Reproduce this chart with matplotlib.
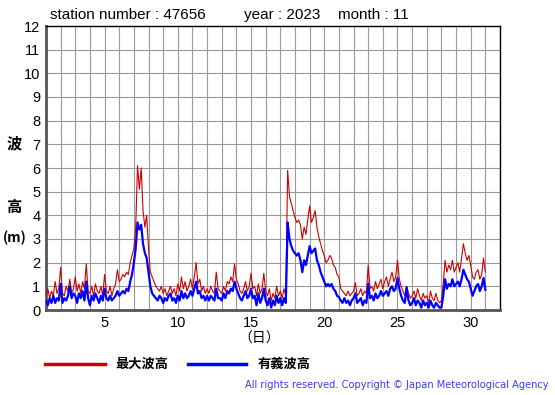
import numpy as np
import matplotlib
matplotlib.use("Agg")
import matplotlib.pyplot as plt

# 3-hourly readings, 8 per day from Nov 1 00h, last value Dec 1 00h
max_wave = [
    0.6, 0.9, 0.5, 0.8, 0.6, 1.2, 0.7, 0.9,   # 1
    1.8, 0.7, 0.6, 1.0, 0.8, 1.3, 0.7, 0.9,   # 2
    1.4, 0.8, 1.1, 0.7, 1.2, 0.9, 1.95, 0.8,  # 3
    0.7, 1.0, 0.6, 1.1, 0.8, 0.7, 1.0, 0.6,   # 4
    1.5, 0.8, 0.7, 1.0, 0.6, 0.9, 1.1, 1.7,   # 5
    1.2, 1.3, 1.5, 1.4, 1.6, 1.5, 2.0, 2.3,   # 6
    2.6, 3.5, 6.1, 5.1, 6.0, 4.2, 3.5, 4.0,   # 7
    2.6, 1.6, 1.4, 1.2, 1.0, 0.9, 0.8, 1.0,   # 8
    0.7, 0.9, 0.6, 0.8, 1.0, 0.7, 0.9, 0.6,   # 9
    1.1, 0.8, 1.4, 0.9, 1.2, 0.8, 1.0, 1.3,   # 10
    0.9, 1.4, 2.0, 1.1, 1.3, 0.8, 1.0, 0.7,   # 11
    0.9, 0.7, 1.0, 0.8, 0.7, 1.6, 0.9, 0.8,   # 12
    0.7, 1.0, 0.8, 1.2, 1.1, 1.4, 1.2, 1.95,  # 13
    1.3, 1.1, 0.8, 0.7, 0.9, 1.2, 0.8, 1.0,   # 14
    1.55, 0.9, 1.0, 0.6, 1.1, 0.7, 0.9, 1.55, # 15
    0.8, 0.6, 0.9, 0.4, 0.7, 0.5, 1.0, 0.6,   # 16
    0.8, 0.5, 0.9, 0.6, 5.9, 4.8, 4.5, 4.2,   # 17
    3.9, 3.7, 3.8, 3.6, 3.0, 3.5, 3.2, 3.8,   # 18
    4.4, 3.7, 3.9, 4.2, 3.5, 3.1, 2.8, 2.5,   # 19
    2.3, 2.0, 2.1, 2.3, 2.2, 1.9, 1.8, 1.5,   # 20
    1.4, 0.9, 0.8, 0.7, 0.6, 0.8, 0.6, 0.7,   # 21
    0.8, 1.15, 0.6, 0.7, 0.9, 0.6, 0.8, 0.7,  # 22
    1.9, 0.9, 1.0, 0.8, 1.2, 0.9, 1.1, 1.3,   # 23
    0.9, 1.2, 1.4, 1.0, 1.3, 1.6, 1.2, 1.4,   # 24
    2.1, 1.3, 1.0, 0.8, 0.6, 1.0, 0.7, 0.5,   # 25
    0.6, 0.8, 0.5, 0.9, 0.6, 0.4, 0.7, 0.5,   # 26
    0.6, 0.3, 0.8, 0.5, 0.4, 0.7, 0.4, 0.3,   # 27
    0.4, 1.1, 2.1, 1.6, 1.9, 1.7, 2.1, 1.6,   # 28
    1.8, 2.0, 1.6, 2.2, 2.8, 2.4, 2.1, 2.3,   # 29
    1.9, 1.4, 1.3, 1.6, 1.7, 1.3, 1.5, 2.2,   # 30
    1.6,
]
sig_wave = [
    0.4, 0.2, 0.5, 0.3, 0.6, 0.3, 0.5, 0.4,   # 1
    1.1, 0.3, 0.5, 0.4, 0.6, 1.0, 0.5, 0.7,   # 2
    0.6, 0.3, 0.7, 0.5, 0.8, 0.4, 1.2, 0.5,   # 3
    0.2, 0.6, 0.4, 0.7, 0.5, 0.3, 0.6, 0.4,   # 4
    0.9, 0.5, 0.4, 0.6, 0.4, 0.5, 0.6, 0.8,   # 5
    0.6, 0.7, 0.8, 0.7, 0.9, 0.8, 1.2, 1.5,   # 6
    2.0, 2.6, 3.7, 3.4, 3.6, 2.8, 2.4, 2.2,   # 7
    1.6, 1.0, 0.7, 0.6, 0.5, 0.4, 0.6, 0.5,   # 8
    0.3, 0.5, 0.4, 0.6, 0.7, 0.4, 0.5, 0.3,   # 9
    0.6, 0.4, 0.8, 0.5, 0.7, 0.5, 0.6, 0.8,   # 10
    0.6, 0.9, 1.2, 0.7, 0.8, 0.5, 0.6, 0.4,   # 11
    0.6, 0.4, 0.6, 0.5, 0.4, 0.9, 0.5, 0.5,   # 12
    0.4, 0.7, 0.5, 0.8, 0.7, 0.9, 0.8, 1.2,   # 13
    0.9, 0.7, 0.5, 0.4, 0.6, 0.8, 0.5, 0.6,   # 14
    0.9, 0.5, 0.6, 0.2, 0.7, 0.3, 0.5, 0.9,   # 15
    0.4, 0.2, 0.5, 0.1, 0.4, 0.2, 0.6, 0.3,   # 16
    0.5, 0.2, 0.5, 0.3, 3.7, 3.0, 2.7, 2.5,   # 17
    2.4, 2.3, 2.4, 2.1, 1.6, 2.1, 1.9, 2.3,   # 18
    2.7, 2.4, 2.5, 2.6, 2.1, 1.9, 1.6, 1.4,   # 19
    1.2, 1.0, 1.1, 1.0, 1.1, 0.9, 0.8, 0.6,   # 20
    0.55, 0.4, 0.3, 0.5, 0.3, 0.4, 0.2, 0.4,  # 21
    0.5, 0.7, 0.3, 0.4, 0.5, 0.2, 0.4, 0.3,   # 22
    1.1, 0.5, 0.6, 0.4, 0.7, 0.5, 0.6, 0.8,   # 23
    0.6, 0.7, 0.8, 0.6, 0.9, 1.0, 0.8, 0.9,   # 24
    1.35, 0.9, 0.6, 0.4, 0.3, 0.95, 0.4, 0.2, # 25
    0.3, 0.5, 0.2, 0.4, 0.3, 0.1, 0.4, 0.2,   # 26
    0.3, 0.1, 0.4, 0.2, 0.1, 0.3, 0.2, 0.1,   # 27
    0.1, 0.6, 1.3, 0.9, 1.1, 1.0, 1.3, 1.0,   # 28
    1.1, 1.2, 1.0, 1.3, 1.7, 1.5, 1.3, 1.2,   # 29
    0.9, 0.6, 0.8, 1.0, 1.1, 0.8, 1.0, 1.35,  # 30
    0.85,
]
days = 1 + np.arange(len(max_wave)) / 8.0

station = "47656"
year = "2023"
month = "11"

CJK = ['Noto Sans CJK JP', 'DejaVu Sans']

fig = plt.figure(figsize=(5.55, 3.95), dpi=100)
ax = fig.add_axes([46 / 555, 1 - 310 / 395, 454 / 555, 284 / 395])

ax.plot(days, max_wave, color='#cc0000', lw=0.8, zorder=3)
ax.plot(days, sig_wave, color='#0000ff', lw=1.6, zorder=4)

ax.set_xlim(1, 32)
ax.set_ylim(0, 12)
ax.set_xticks(np.arange(1, 33), minor=True)
ax.set_xticks([5, 10, 15, 20, 25, 30])
ax.set_yticks(np.arange(0, 13))
ax.grid(True, which='both', color='#999999', lw=0.8)
ax.tick_params(which='both', length=0, labelsize=10.5, pad=4)
for lab in ax.get_xticklabels() + ax.get_yticklabels():
    lab.set_fontfamily('Liberation Sans')
for s in ('left', 'bottom'):
    ax.spines[s].set_color('#555555')
    ax.spines[s].set_linewidth(2)
for s in ('top', 'right'):
    ax.spines[s].set_color('black')
    ax.spines[s].set_linewidth(1)

# header
fig.text(50 / 555, 1 - 15 / 395, f'station number : {station}', fontsize=11,
         family='Liberation Sans', va='center')
fig.text(244 / 555, 1 - 15 / 395, f'year : {year}', fontsize=11,
         family='Liberation Sans', va='center')
fig.text(338 / 555, 1 - 15 / 395, f'month : {month}', fontsize=11,
         family='Liberation Sans', va='center')

# axis labels
fig.text(14 / 555, 1 - 143 / 395, '波', fontsize=11, family=CJK, weight='bold', ha='center', va='center')
fig.text(14 / 555, 1 - 207 / 395, '高', fontsize=11, family=CJK, weight='bold', ha='center', va='center')
fig.text(15 / 555, 1 - 238 / 395, '(m)', fontsize=10, family=CJK, weight='bold', ha='center', va='center')
fig.text(259 / 555, 1 - 339 / 395, '（日）', fontsize=10, family=CJK, ha='center', va='center')

# legend
fig.add_artist(plt.Line2D([45 / 555, 105 / 555], [1 - 364 / 395] * 2, color='#cc0000', lw=2.5))
fig.text(115 / 555, 1 - 364 / 395, '最大波高', fontsize=9.5, family=CJK, weight='bold', va='center')
fig.add_artist(plt.Line2D([188 / 555, 246 / 555], [1 - 364 / 395] * 2, color='#0000ff', lw=2.5))
fig.text(258 / 555, 1 - 364 / 395, '有義波高', fontsize=9.5, family=CJK, weight='bold', va='center')

fig.text(549 / 555, 1 - 385 / 395, 'All rights reserved. Copyright © Japan Meteorological Agency',
         fontsize=7.1, color='#3b3bff', ha='right', va='center')

fig.savefig('out.png', dpi=100)
